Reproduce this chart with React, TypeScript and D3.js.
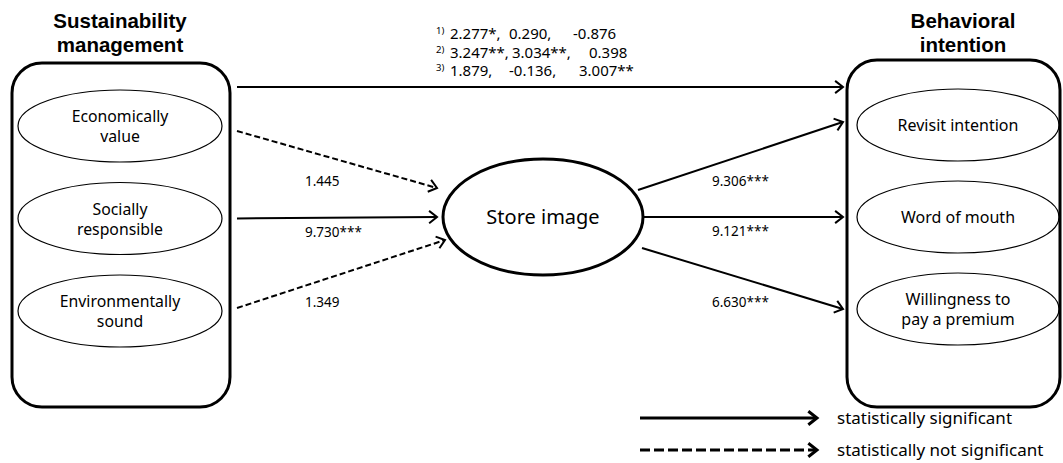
import React from 'react';
import * as d3 from 'd3';

// constructs of the model
const sustainabilityDims = ['Economically value', 'Socially responsible', 'Environmentally sound'];
const sustainabilityLines = [['Economically', 'value'], ['Socially', 'responsible'], ['Environmentally', 'sound']];
const intentionDims = ['Revisit intention', 'Word of mouth', 'Willingness to pay a premium'];
const intentionLines = [['Revisit intention'], ['Word of mouth'], ['Willingness to', 'pay a premium']];
const leftTitle = ['Sustainability', 'management'];
const rightTitle = ['Behavioral', 'intention'];

// path coefficients (t values)
const toStoreImage = ['1.445', '9.730***', '1.349'];
const toStoreSig = [false, true, false];
const fromStoreImage = ['9.306***', '9.121***', '6.630***'];
const fromStoreSig = [true, true, true];
const directMarks = ['1)', '2)', '3)'];
const directRows = [
    ['2.277*,', '0.290,', '-0.876'],
    ['3.247**,', '3.034**,', '0.398'],
    ['1.879,', '-0.136,', '3.007**'],
];
const legendItems = ['statistically significant', 'statistically not significant'];

const W = 1063;
const H = 463;
const FONT = '"Noto Sans", sans-serif';
const TITLE_FONT = '"Liberation Sans", Arial, sans-serif';

// layout
const leftBox = { x: 12, y: 63, w: 218, h: 344 };
const rightBox = { x: 847, y: 60, w: 213, h: 347 };
const store = { cx: 543, cy: 217, rx: 100, ry: 58 };
const directColX = [[450, 509, 573], [450, 512, 589], [450, 509, 579]];
const directRowY = [39, 57.5, 76];
const inStartDy = [5, 0, -3];
const inEnd = [[437, -29], [437, 0], [445, 23]];
const inLabelY = [186, 237, 307];
const outStart = [[638, -27], [643, 0], [642, 31]];
const outLabelY = [186, 236, 307];

const Arrow: React.FC<{ x1: number; y1: number; x2: number; y2: number; dashed?: boolean; sw?: number; head?: number; dash?: string }> = ({
    x1, y1, x2, y2, dashed = false, sw = 2, head = 10, dash = '6,3',
}) => {
    const a = Math.atan2(y2 - y1, x2 - x1);
    const phi = (38 * Math.PI) / 180;
    const p = d3.path();
    p.moveTo(x2 - head * Math.cos(a - phi), y2 - head * Math.sin(a - phi));
    p.lineTo(x2, y2);
    p.lineTo(x2 - head * Math.cos(a + phi), y2 - head * Math.sin(a + phi));
    return (
        <g>
            <line x1={x1} y1={y1} x2={x2 - Math.cos(a)} y2={y2 - Math.sin(a)} stroke="#000" strokeWidth={sw}
                strokeDasharray={dashed ? dash : undefined} />
            <path d={p.toString()} fill="none" stroke="#000" strokeWidth={sw} strokeLinejoin="miter" />
        </g>
    );
};

// multi-line label as one text element
const Label: React.FC<{ x: number; y: number; lines: string[]; size: number; lh: number; bold?: boolean; font?: string }> = ({
    x, y, lines, size, lh, bold, font,
}) => (
    <text x={x} y={y - ((lines.length - 1) * lh) / 2} textAnchor="middle" fontSize={size}
        fontWeight={bold ? 'bold' : undefined} fontFamily={font}>
        {lines.map((t, j) => (
            <tspan key={t} x={x} dy={j === 0 ? 0 : lh}>{t}</tspan>
        ))}
    </text>
);

const App: React.FC = () => {
    const leftY = d3.scalePoint<number>().domain(d3.range(sustainabilityDims.length)).range([126, 311]);
    const rightY = d3.scalePoint<number>().domain(d3.range(intentionDims.length)).range([125, 309]);
    const leftCx = 120;
    const rightCx = 958;

    return (
        <svg width={W} height={H} style={{ position: 'absolute', left: 0, top: 0, background: '#fff' }} fontFamily={FONT}>
            {/* group titles */}
            <Label x={120} y={39.5} lines={leftTitle} size={20.5} lh={24} bold font={TITLE_FONT} />
            <Label x={963} y={39.5} lines={rightTitle} size={20.5} lh={24} bold font={TITLE_FONT} />

            {/* boxes */}
            <rect x={leftBox.x} y={leftBox.y} width={leftBox.w} height={leftBox.h} rx={30} fill="none" stroke="#000" strokeWidth={3} />
            <rect x={rightBox.x} y={rightBox.y} width={rightBox.w} height={rightBox.h} rx={30} fill="none" stroke="#000" strokeWidth={3} />

            {sustainabilityDims.map((d, i) => (
                <g key={d}>
                    <ellipse cx={leftCx} cy={leftY(i)!} rx={102} ry={36} fill="none" stroke="#000" strokeWidth={1.2} />
                    <Label x={leftCx} y={leftY(i)! + 6} lines={sustainabilityLines[i]} size={15.8} lh={20} />
                </g>
            ))}
            {intentionDims.map((d, i) => (
                <g key={d}>
                    <ellipse cx={rightCx} cy={rightY(i)!} rx={101} ry={36} fill="none" stroke="#000" strokeWidth={1.2} />
                    <Label x={rightCx} y={rightY(i)! + 6} lines={intentionLines[i]} size={16} lh={20} />
                </g>
            ))}

            {/* store image */}
            <ellipse cx={store.cx} cy={store.cy} rx={store.rx} ry={store.ry} fill="none" stroke="#000" strokeWidth={3} />
            <text x={store.cx} y={store.cy + 7} textAnchor="middle" fontSize={20}>Store image</text>

            {/* direct effect */}
            <Arrow x1={237} y1={87} x2={843} y2={87} />
            {directRows.map((row, i) => (
                <g key={i}>
                    <text x={436} y={directRowY[i] - 5} fontSize={9.5}>{directMarks[i]}</text>
                    {row.map((v, j) => (
                        <text key={j} x={directColX[i][j]} y={directRowY[i]} fontSize={15}>{v}</text>
                    ))}
                </g>
            ))}

            {/* sustainability -> store image */}
            {toStoreImage.map((v, i) => (
                <g key={v}>
                    <Arrow x1={237} y1={leftY(i)! + inStartDy[i]} x2={inEnd[i][0]} y2={store.cy + inEnd[i][1]} dashed={!toStoreSig[i]} />
                    <text x={305} y={inLabelY[i]} fontSize={13.5}>{v}</text>
                </g>
            ))}

            {/* store image -> behavioral intention */}
            {fromStoreImage.map((v, i) => (
                <g key={v}>
                    <Arrow x1={outStart[i][0]} y1={store.cy + outStart[i][1]} x2={843} y2={rightY(i)! - (i === 0 ? 3 : 0)} dashed={!fromStoreSig[i]} />
                    <text x={712} y={outLabelY[i]} fontSize={13.5}>{v}</text>
                </g>
            ))}

            {/* legend */}
            {legendItems.map((t, i) => (
                <g key={t}>
                    <Arrow x1={640} y1={418 + i * 32} x2={817} y2={418 + i * 32} sw={3} head={11} dashed={i === 1} dash="10,4" />
                    <text x={837} y={418 + i * 32 + 6} fontSize={17}>{t}</text>
                </g>
            ))}
        </svg>
    );
};

export default App;
